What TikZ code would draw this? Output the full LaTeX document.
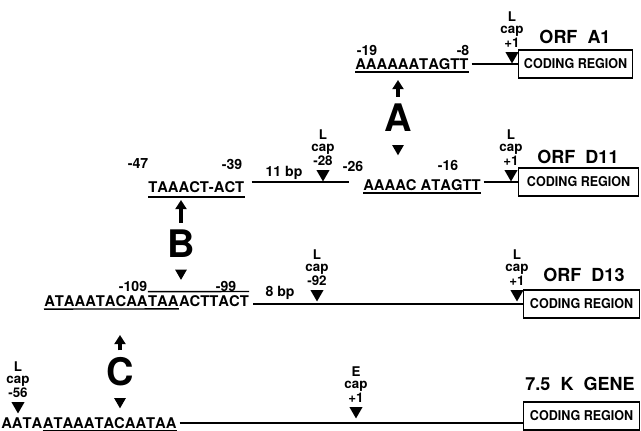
\documentclass[tikz,border=0pt]{standalone}
\usepackage{fontspec}
\setmainfont{TeX Gyre Heros}
\newfontfamily\narrowface{TeX Gyre Heros}[FakeStretch=0.93]
\newfontfamily\seqface{TeX Gyre Heros}[Kerning=Off]
\usetikzlibrary{arrows.meta,positioning,shapes.geometric}
\newcommand{\seqfont}{\seqface\fontsize{10.5}{12}\selectfont\bfseries}
\newcommand{\posfont}{\fontsize{10}{12}\selectfont\bfseries}
\newcommand{\capfont}{\fontsize{9.5}{8.6}\selectfont\bfseries}
\newcommand{\genefont}{\fontsize{12.8}{14}\selectfont\bfseries}
\newcommand{\codingfont}{\narrowface\fontsize{9.6}{12}\selectfont\bfseries}
\newcommand{\motiffont}{\fontsize{27}{30}\selectfont\bfseries}

\begin{document}
\begin{tikzpicture}[
  x=0.025cm,
  y=-0.025cm,
  seq/.style={font=\seqfont, inner xsep=0pt, inner ysep=1.6pt},
  coordlab/.style={font=\posfont, inner sep=0pt},
  caplab/.style={font=\capfont, align=center, inner sep=0pt},
  capmark/.style={regular polygon, regular polygon sides=3,
    shape border rotate=180, fill=black, inner sep=0pt, minimum size=0.38cm},
  gene/.style={font=\genefont, inner sep=0pt},
  coding/.style={draw, line width=0.9pt, minimum width=2.9cm,
    minimum height=0.7cm, inner sep=0pt, font=\codingfont},
  dna/.style={line width=0.9pt},
  uline/.style={line width=1pt},
  motif/.style={font=\motiffont, inner sep=1pt},
  motifup/.style={line width=2.8pt, -{Triangle[length=6.5pt, width=7.8pt]},
    shorten <=4pt}
]
  \useasboundingbox (0,0) rectangle (641,431);

  % ---- ORF A1 ------------------------------------------------------------
  \node[coding, minimum width=2.85cm, anchor=west] (boxA1) at (518,64) {CODING REGION};
  \node[gene] (nameA1) at (575,37) {ORF \ A1};
  \node[seq, anchor=west] (seqA1) at (355,64) {AAAAAATAGTT};
  \draw[uline] (seqA1.south west) -- (seqA1.south east);
  \node[coordlab] (pA1a) at (367,50) {-19};
  \node[coordlab] (pA1b) at (463,50) {-8};
  \draw[dna] ([xshift=2pt]seqA1.east) -- (boxA1.west);
  \node[capmark, anchor=corner 1] (capA1) at (512,64) {};
  \node[caplab, above=3pt of capA1] (labA1) {L\\cap\\+1};

  % ---- motif A -----------------------------------------------------------
  \node[motif] (motifA) at (398,118) {A};
  \coordinate (Atip) at (398,80);
  \draw[motifup] (motifA.north) -- (Atip);
  \node[capmark, minimum size=0.34cm, below=8pt of motifA] (Adown) {};

  % ---- ORF D11 -----------------------------------------------------------
  \node[coding, minimum width=3cm, anchor=west] (boxD11) at (518,182) {CODING REGION};
  \node[gene] (nameD11) at (578,157) {ORF \ D11};
  \node[seq, anchor=west] (seqD11a) at (148,187) {TAAACT-ACT};
  \draw[uline] ([yshift=-1.5pt]seqD11a.south west) -- ([yshift=-1.5pt]seqD11a.south east);
  \node[coordlab] (pD11a) at (138,164) {-47};
  \node[coordlab] (pD11b) at (232,164) {-39};
  \node[seq, anchor=west] (seqD11b) at (363,185) {AAAAC ATAGTT};
  \draw[uline] (seqD11b.south west) -- (seqD11b.south east);
  \node[coordlab] (pD11c) at (353,166) {-26};
  \node[coordlab] (pD11d) at (448,165) {-16};
  \draw[dna] ([xshift=5pt]seqD11a.east |- boxD11.west)
    -- ([xshift=-10pt]seqD11b.west |- boxD11.west);
  \draw[dna] ([xshift=2pt]seqD11b.east |- boxD11.west) -- (boxD11.west);
  \node[coordlab] (bpD11) at (284,173) {11 bp};
  \node[capmark, anchor=corner 1] (capD11a) at (323,182) {};
  \node[caplab, above=3pt of capD11a] (labD11a) {L\\cap\\-28};
  \node[capmark, anchor=corner 1] (capD11b) at (511,182) {};
  \node[caplab, above=3pt of capD11b] (labD11b) {L\\cap\\+1};

  % ---- motif B -----------------------------------------------------------
  \node[motif] (motifB) at (181,244) {B};
  \coordinate (Btip) at (181,200);
  \draw[motifup] (motifB.north) -- (Btip);
  \node[capmark, minimum size=0.34cm, below=7pt of motifB] (Bdown) {};

  % ---- ORF D13 -----------------------------------------------------------
  \node[coding, anchor=west] (boxD13) at (523,304) {CODING REGION};
  \node[gene] (nameD13) at (584,275) {ORF \ D13};
  \node[seq, anchor=west] (seqD13a) at (44,301) {ATAAATACAA};
  \node[seq, anchor=base west] (seqD13b) at (seqD13a.base east) {TAA};
  \node[seq, anchor=base west] (seqD13c) at (seqD13b.base east) {ACTTACT};
  \draw[uline] (seqD13a.south west) -- (seqD13b.south east);
  \draw[uline] ([yshift=1pt]seqD13b.north west) -- ([yshift=1pt]seqD13c.north east);
  \node[coordlab] (pD13a) at (133,286) {-109};
  \node[coordlab] (pD13b) at (226,286) {-99};
  \draw[dna] ([xshift=3pt]seqD13c.east |- boxD13.west) -- (boxD13.west);
  \node[coordlab] (bpD13) at (280,293) {8 bp};
  \node[capmark, anchor=corner 1] (capD13a) at (317,302) {};
  \node[caplab, above=3pt of capD13a] (labD13a) {L\\cap\\-92};
  \node[capmark, anchor=corner 1] (capD13b) at (517,302) {};
  \node[caplab, above=3pt of capD13b] (labD13b) {L\\cap\\+1};

  % ---- motif C -----------------------------------------------------------
  \node[motif] (motifC) at (120,372) {C};
  \coordinate (Ctip) at (120,335);
  \draw[motifup] (motifC.north) -- (Ctip);
  \node[capmark, minimum size=0.34cm, below=7pt of motifC] (Cdown) {};

  % ---- 7.5 K gene --------------------------------------------------------
  \node[coding, anchor=west] (boxK) at (523,416) {CODING REGION};
  \node[gene] (nameK) at (580,384) {7.5 \ K \ GENE};
  \node[seq, anchor=west] (seqKa) at (1,423) {AATA};
  \node[seq, anchor=base west] (seqKb) at (seqKa.base east) {ATAAATACAATAA};
  \draw[uline] (seqKb.south west) -- (seqKb.south east);
  \draw[dna] ([xshift=2pt]seqKb.east) -- (seqKb.east -| boxK.west);
  \node[capmark, anchor=corner 1] (capKa) at (18,414) {};
  \node[caplab, above=3pt of capKa] (labKa) {L\\cap\\-56};
  \node[capmark, anchor=corner 1] (capKb) at (356,419) {};
  \node[caplab, above=3pt of capKb] (labKb) {E\\cap\\+1};
\end{tikzpicture}
\end{document}
